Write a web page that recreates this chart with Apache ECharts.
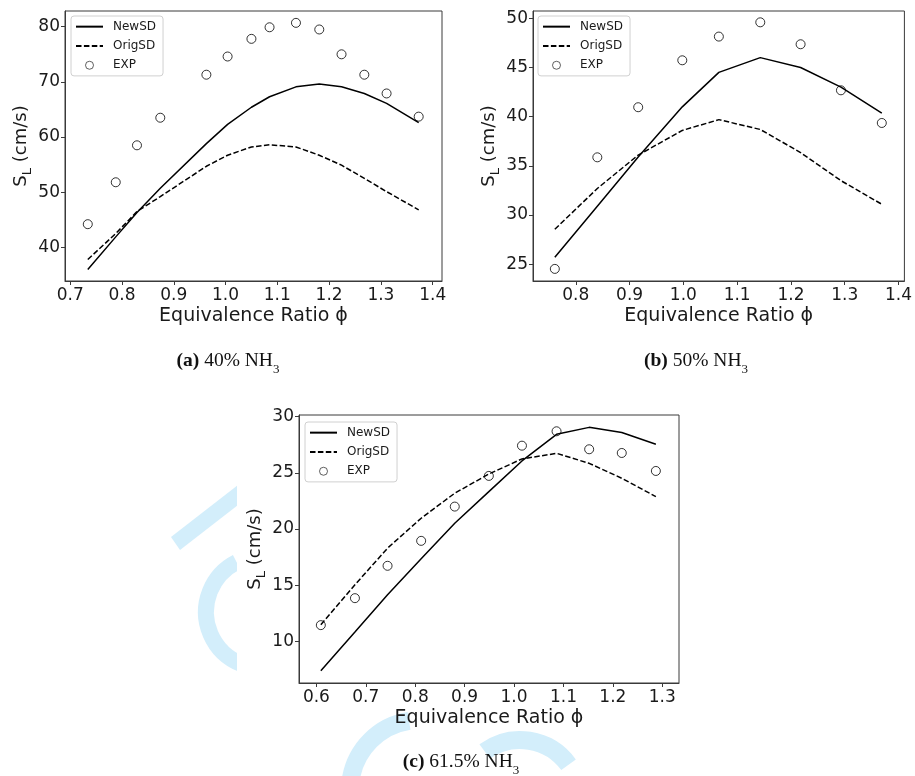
<!DOCTYPE html>
<html>
<head>
<meta charset="utf-8">
<script src="https://cdn.jsdelivr.net/npm/echarts@6/dist/echarts.min.js"></script>
<style>html,body{margin:0;padding:0;background:#fff;}#c{width:915px;height:776px;}</style>
</head>
<body>
<div id="c"></div>
<script>
// ---- data ----
const seriesNames = ['NewSD', 'OrigSD', 'EXP'];

const aPhi   = [0.734, 0.788, 0.829, 0.874, 0.963, 1.004, 1.050, 1.085, 1.136, 1.181, 1.224, 1.268, 1.311, 1.373];
const aExp   = [44.2, 51.8, 58.5, 63.5, 71.3, 74.6, 77.8, 79.9, 80.7, 79.5, 75.0, 71.3, 67.9, 63.7];
const aNew   = [36.0, 41.9, 46.3, 50.7, 58.8, 62.3, 65.4, 67.3, 69.1, 69.6, 69.1, 67.9, 66.1, 62.6];
const aOrig  = [37.8, 42.5, 46.5, 49.2, 54.7, 56.7, 58.2, 58.6, 58.2, 56.7, 54.9, 52.5, 50.1, 46.8];

const bPhi   = [0.761, 0.840, 0.916, 0.998, 1.066, 1.143, 1.218, 1.293, 1.369];
const bExp   = [24.53, 35.87, 40.96, 45.73, 48.14, 49.59, 47.36, 42.68, 39.36];
const bNew   = [25.71, 30.9, 35.9, 41.0, 44.5, 46.0, 45.0, 43.0, 40.35];
const bOrig  = [28.56, 32.7, 36.1, 38.6, 39.7, 38.7, 36.35, 33.5, 31.1];

const cPhi   = [0.609, 0.678, 0.744, 0.812, 0.880, 0.949, 1.016, 1.086, 1.152, 1.218, 1.287];
const cExp   = [11.45, 13.85, 16.73, 18.95, 22.0, 24.73, 27.42, 28.70, 27.10, 26.77, 25.17];
const cNew   = [7.39, 10.83, 14.15, 17.35, 20.52, 23.33, 26.06, 28.43, 29.05, 28.6, 27.54];
const cOrig  = [11.48, 15.04, 18.3, 20.96, 23.19, 24.9, 26.24, 26.74, 25.85, 24.52, 22.89];

const aXTicks = [0.7, 0.8, 0.9, 1.0, 1.1, 1.2, 1.3, 1.4];
const aYTicks = [40, 50, 60, 70, 80];
const bXTicks = [0.8, 0.9, 1.0, 1.1, 1.2, 1.3, 1.4];
const bYTicks = [25, 30, 35, 40, 45, 50];
const cXTicks = [0.6, 0.7, 0.8, 0.9, 1.0, 1.1, 1.2, 1.3];
const cYTicks = [10, 15, 20, 25, 30];

const xTitle = 'Equivalence Ratio ϕ';
const captions = [
  ['(a)', ' 40% NH', '3'],
  ['(b)', ' 50% NH', '3'],
  ['(c)', ' 61.5% NH', '3']
];

// ---- build ----
const FONT = 'DejaVu Sans';
const INK = '#1a1a1a';
const FRAME = '#3a3a3a';
const NOFILL = 'rgba(0,0,0,0)';

const panels = [
  {grid: {left: 65, top: 11, width: 377, height: 270}, xr: [0.690, 1.418], yr: [33.9, 82.85], xt: aXTicks, yt: aYTicks, phi: aPhi, exp: aExp, nw: aNew, og: aOrig, leg: {left: 71, top: 16}, cap: [228, 361]},
  {grid: {left: 533, top: 11, width: 373, height: 270}, xr: [0.7204, 1.411], yr: [23.30, 50.74], xt: bXTicks, yt: bYTicks, phi: bPhi, exp: bExp, nw: bNew, og: bOrig, leg: {left: 538, top: 16}, cap: [696, 361]},
  {grid: {left: 299, top: 415, width: 380, height: 268}, xr: [0.5648, 1.3338], yr: [6.30, 30.15], xt: cXTicks, yt: cYTicks, phi: cPhi, exp: cExp, nw: cNew, og: cOrig, leg: {left: 305, top: 422}, cap: [461, 762]}
];

const zip = (xs, ys) => xs.map((x, i) => [x, ys[i]]);

const grids = [], xAxes = [], yAxes = [], series = [], legends = [], graphics = [];

// watermark (light blue strokes, hidden behind the white figure area of panel c)
const WM = '#d3eefb';
graphics.push(
  {type: 'polygon', z: -10, shape: {points: [[171, 537], [238, 485], [238, 505], [180, 550]]}, style: {fill: WM}},
  {type: 'arc', z: -10, shape: {cx: 262, cy: 612, r: 56, startAngle: Math.PI * 0.62, endAngle: Math.PI * 1.35}, style: {stroke: WM, lineWidth: 16, fill: null}},
  {type: 'arc', z: -10, shape: {cx: 420, cy: 790, r: 70, startAngle: Math.PI * 1.05, endAngle: Math.PI * 1.45}, style: {stroke: WM, lineWidth: 18, fill: null}},
  {type: 'arc', z: -10, shape: {cx: 520, cy: 800, r: 60, startAngle: Math.PI * 1.3, endAngle: Math.PI * 1.8}, style: {stroke: WM, lineWidth: 18, fill: null}},
  {type: 'rect', z: -9, shape: {x: 237, y: 398, width: 460, height: 314}, style: {fill: '#fff'}}
);

panels.forEach((p, i) => {
  grids.push(Object.assign({show: true, borderColor: FRAME, borderWidth: 1, backgroundColor: '#fff', containLabel: false}, p.grid));
  xAxes.push({
    type: 'value', gridIndex: i, min: p.xr[0], max: p.xr[1],
    name: xTitle, nameLocation: 'middle', nameGap: 26,
    nameTextStyle: {fontFamily: FONT, fontSize: 19, color: INK},
    axisLine: {show: true, onZero: false, lineStyle: {color: FRAME, width: 1}},
    axisTick: {show: true, length: 4, customValues: p.xt, lineStyle: {color: FRAME}},
    axisLabel: {show: true, customValues: p.xt, margin: 6, fontFamily: FONT, fontSize: 17, color: INK, formatter: v => v.toFixed(1)},
    splitLine: {show: false}
  });
  yAxes.push({
    type: 'value', gridIndex: i, min: p.yr[0], max: p.yr[1],
    name: '{m|S}{s|L} (cm/s)', nameLocation: 'middle', nameGap: 33, nameRotate: 90,
    nameTextStyle: {fontFamily: FONT, fontSize: 18, color: INK, rich: {m: {fontFamily: FONT, fontSize: 18, color: INK}, s: {fontFamily: FONT, fontSize: 13, color: INK, verticalAlign: 'bottom', padding: [0, 0, -4, 0]}}},
    axisLine: {show: true, onZero: false, lineStyle: {color: FRAME, width: 1}},
    axisTick: {show: true, length: 4, customValues: p.yt, lineStyle: {color: FRAME}},
    axisLabel: {show: true, customValues: p.yt, margin: 5, fontFamily: FONT, fontSize: 17, color: INK, formatter: v => String(Math.round(v))},
    splitLine: {show: false}
  });
  series.push(
    {name: seriesNames[0], type: 'line', xAxisIndex: i, yAxisIndex: i, data: zip(p.phi, p.nw), symbol: 'none', lineStyle: {color: '#000', width: 1.5}, itemStyle: {color: NOFILL, borderColor: NOFILL}, animation: false},
    {name: seriesNames[1], type: 'line', xAxisIndex: i, yAxisIndex: i, data: zip(p.phi, p.og), symbol: 'none', lineStyle: {color: '#000', width: 1.5, type: [5.5, 2.4]}, itemStyle: {color: NOFILL, borderColor: NOFILL}, animation: false},
    {name: seriesNames[2], type: 'scatter', xAxisIndex: i, yAxisIndex: i, data: zip(p.phi, p.exp), symbol: 'circle', symbolSize: 9, itemStyle: {color: 'rgba(255,255,255,0)', borderColor: '#000', borderWidth: 1}, z: 3, animation: false}
  );
  legends.push({
    left: p.leg.left, top: p.leg.top, orient: 'vertical',
    data: [
      {name: seriesNames[0], itemStyle: {opacity: 0}},
      {name: seriesNames[1], itemStyle: {opacity: 0}},
      {name: seriesNames[2], itemStyle: {color: 'rgba(255,255,255,0)', borderColor: '#222', borderWidth: 0.9}}
    ],
    itemWidth: 27, itemHeight: 8, itemGap: 0, padding: [1, 7, 1, 4],
    borderColor: '#d0d0d0', borderWidth: 1, borderRadius: 3, backgroundColor: 'rgba(255,255,255,0.85)',
    selectedMode: false,
    textStyle: {fontFamily: FONT, fontSize: 12, color: INK, lineHeight: 19.3, padding: [0, 0, 0, 5]}
  });
  const c = captions[i];
  graphics.push({
    type: 'text', x: p.cap[0], y: p.cap[1],
    style: {
      text: '{b|' + c[0] + '}{r|' + c[1] + '}{s|' + c[2] + '}',
      align: 'center', verticalAlign: 'middle',
      rich: {
        b: {fontFamily: 'Liberation Serif', fontWeight: 'bold', fontSize: 19.5, fill: '#111'},
        r: {fontFamily: 'Liberation Serif', fontSize: 19.5, fill: '#111'},
        s: {fontFamily: 'Liberation Serif', fontSize: 13, fill: '#111', verticalAlign: 'bottom', padding: [0, 0, -5, 0]}
      }
    }
  });
});

const chart = echarts.init(document.getElementById('c'), null, {renderer: 'canvas'});
chart.setOption({
  animation: false,
  backgroundColor: '#fff',
  grid: grids, xAxis: xAxes, yAxis: yAxes, series: series, legend: legends, graphic: graphics
});
</script>
</body>
</html>
